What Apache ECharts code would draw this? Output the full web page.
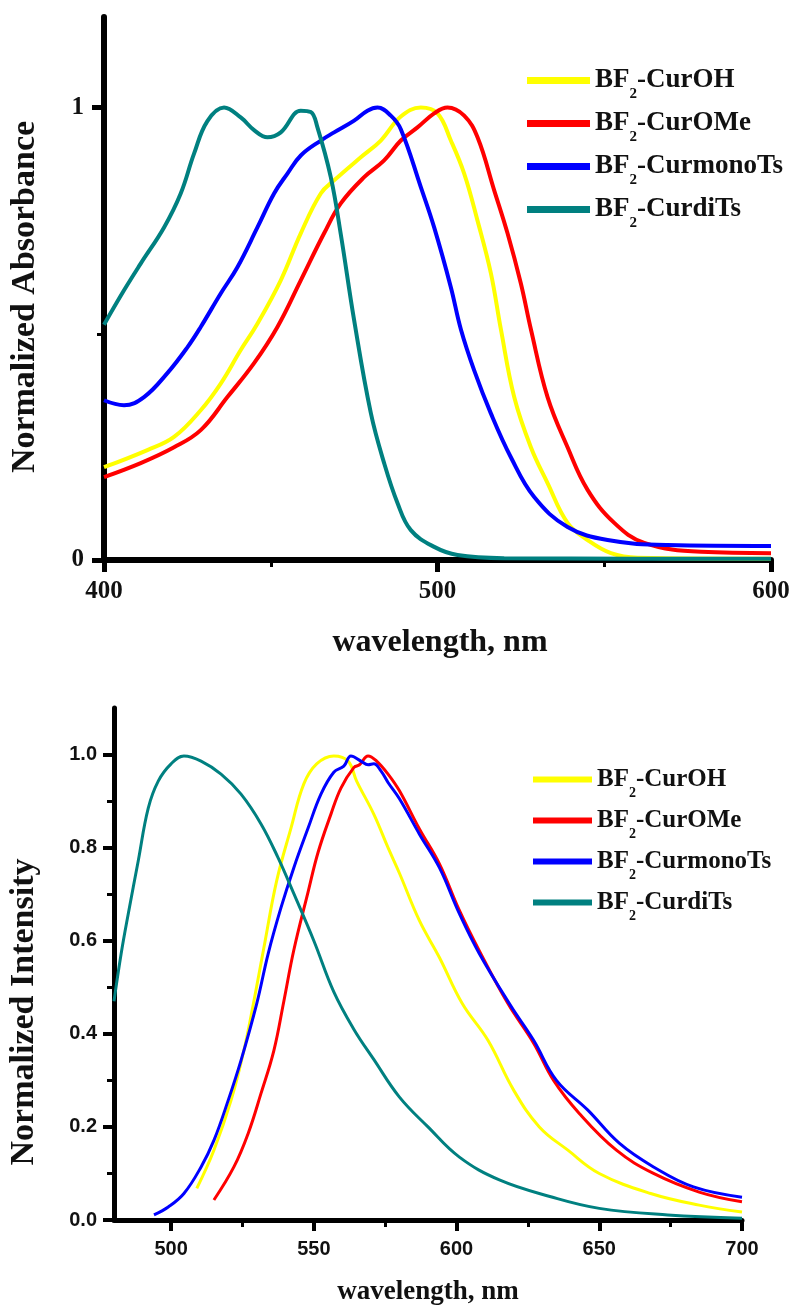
<!DOCTYPE html>
<html>
<head>
<meta charset="utf-8">
<script src="https://cdn.jsdelivr.net/npm/echarts@6/dist/echarts.min.js"></script>
<style>
  html, body { margin: 0; padding: 0; background: #fff; }
  #chart { width: 795px; height: 1307px; }
</style>
</head>
<body>
<div id="chart"></div>
<script>
const seriesNames = ['BF2-CurOH', 'BF2-CurOMe', 'BF2-CurmonoTs', 'BF2-CurdiTs']
const seriesColors = ['#ffff00', '#ff0000', '#0000ff', '#008080']

// absorbance spectra (top panel)
const absOH_wl = [400, 413, 421, 429, 435, 441, 446, 453, 459, 465, 469, 477, 483, 489, 495, 500, 504, 508, 512, 516, 519, 523, 528, 533, 539, 545, 552, 560, 600]
const absOH = [0.205, 0.243, 0.272, 0.331, 0.39, 0.464, 0.522, 0.618, 0.722, 0.81, 0.839, 0.89, 0.927, 0.98, 1.0, 0.987, 0.927, 0.854, 0.75, 0.634, 0.51, 0.36, 0.249, 0.17, 0.082, 0.044, 0.015, 0.005, 0.003]

const absOMe_wl = [400, 411, 421, 429, 437, 445, 452, 459, 466, 471, 478, 484, 489, 494, 499, 503, 508, 512, 517, 521, 525, 528, 533, 539, 545, 553, 562, 579, 600]
const absOMe = [0.183, 0.214, 0.249, 0.287, 0.36, 0.435, 0.515, 0.618, 0.722, 0.788, 0.846, 0.883, 0.927, 0.956, 0.987, 1.0, 0.982, 0.934, 0.817, 0.722, 0.611, 0.51, 0.36, 0.249, 0.155, 0.082, 0.038, 0.018, 0.015]

const absMono_wl = [400, 406, 412, 419, 425, 429, 435, 440, 446, 451, 455, 459, 465, 469, 475, 479, 482, 486, 489, 495, 499, 504, 507, 511, 516, 522, 529, 539, 551, 569, 600]
const absMono = [0.353, 0.342, 0.36, 0.413, 0.47, 0.515, 0.589, 0.647, 0.735, 0.81, 0.854, 0.894, 0.927, 0.945, 0.971, 0.993, 1.0, 0.982, 0.952, 0.824, 0.735, 0.603, 0.51, 0.419, 0.324, 0.227, 0.139, 0.073, 0.044, 0.033, 0.031]

const absDi_wl = [400, 406, 411, 418, 423, 427, 431, 436, 441, 445, 449, 453, 459, 462, 464, 468, 471, 475, 480, 484, 488, 492, 499, 506, 520, 560, 600]
const absDi = [0.52, 0.596, 0.655, 0.735, 0.81, 0.898, 0.97, 1.0, 0.978, 0.95, 0.934, 0.945, 0.993, 0.99, 0.956, 0.846, 0.72, 0.53, 0.325, 0.214, 0.126, 0.066, 0.029, 0.011, 0.004, 0.003, 0.003]

// emission spectra (bottom panel)
const emOH_wl = [509, 515, 521, 525.5, 529, 532.5, 537, 542, 546.5, 551, 557, 562, 565, 571, 576, 580, 587, 594, 602, 611, 620, 629, 639, 650, 668, 685, 700]
const emOH = [0.068, 0.15, 0.257, 0.364, 0.47, 0.585, 0.729, 0.842, 0.937, 0.98, 0.997, 0.986, 0.943, 0.872, 0.8, 0.745, 0.643, 0.564, 0.465, 0.386, 0.279, 0.2, 0.15, 0.1, 0.057, 0.032, 0.017]

const emOMe_wl = [515, 522, 527, 531.5, 536, 539.5, 543, 548, 551.5, 556, 559.5, 564, 566, 569, 572, 576, 580, 587, 594, 601, 608, 618, 627, 634, 643, 656, 669, 685, 700]
const emOMe = [0.043, 0.114, 0.186, 0.272, 0.364, 0.47, 0.58, 0.705, 0.79, 0.872, 0.928, 0.972, 0.978, 0.997, 0.986, 0.958, 0.922, 0.84, 0.765, 0.665, 0.578, 0.465, 0.38, 0.3, 0.229, 0.15, 0.1, 0.06, 0.039]

const emMono_wl = [494, 499, 504.5, 510.5, 515, 520, 524.5, 530, 534, 538.5, 543, 548, 552.5, 557, 560.5, 563, 566.5, 569, 571, 573.5, 576, 580, 587, 594, 601, 608, 619, 627, 635, 646, 657, 669, 683, 700]
const emMono = [0.011, 0.028, 0.057, 0.114, 0.171, 0.257, 0.343, 0.465, 0.572, 0.671, 0.757, 0.842, 0.915, 0.962, 0.975, 0.997, 0.986, 0.978, 0.98, 0.965, 0.94, 0.905, 0.829, 0.757, 0.658, 0.572, 0.46, 0.386, 0.3, 0.236, 0.165, 0.114, 0.071, 0.049]

const emDi_wl = [480, 482.5, 485, 488.5, 492, 495.5, 500, 504.5, 510.5, 517.5, 524.5, 531.5, 537.5, 543, 550, 557, 564, 571, 580, 590, 601, 615, 633, 650, 674, 700]
const emDi = [0.47, 0.572, 0.658, 0.772, 0.885, 0.943, 0.98, 0.997, 0.986, 0.958, 0.915, 0.851, 0.778, 0.701, 0.6, 0.49, 0.41, 0.345, 0.264, 0.2, 0.135, 0.086, 0.05, 0.025, 0.011, 0.004]

const zip = (xs, ys) => xs.map((x, i) => [x, ys[i]])

const serif = 'Liberation Serif'
const sans = 'Liberation Sans'
const ink = '#111'

// "BF" + subscript 2 + rest of the name
const legendRich = (big, small, drop) => ({
  a: { fontFamily: serif, fontWeight: 'bold', fontSize: big, color: ink, verticalAlign: 'middle' },
  s: { fontFamily: serif, fontWeight: 'bold', fontSize: small, color: ink, verticalAlign: 'top', padding: [drop, 0, 0, 0] },
})
const legendFormatter = name => '{a|BF}{s|2}{a|' + name.slice(3) + '}'

const minorAxis = (kind, grid, min, max, ticks, len) => ({
  gridIndex: grid, type: 'value', min, max,
  position: kind === 'x' ? 'bottom' : 'left',
  splitLine: { show: false },
  axisLine: { show: false },
  axisTick: { customValues: ticks, length: len, lineStyle: { color: '#000', width: 3 } },
  axisLabel: { show: false },
})

const chart = echarts.init(document.getElementById('chart'))

const option = {
  animation: false,
  backgroundColor: '#fff',
  grid: [
    { left: 104, top: 17, width: 667, height: 543 },
    { left: 114, top: 708, width: 628, height: 512 },
  ],
  legend: [
    {
      data: seriesNames,
      orient: 'vertical',
      left: 522,
      top: 62,
      itemWidth: 63,
      itemHeight: 7,
      itemGap: 8,
      icon: 'rect',
      selectedMode: false,
      formatter: legendFormatter,
      textStyle: { fontFamily: serif, fontWeight: 'bold', fontSize: 27, color: ink, rich: legendRich(27, 15, 28) },
    },
    {
      data: seriesNames,
      orient: 'vertical',
      left: 528,
      top: 762,
      itemWidth: 59,
      itemHeight: 6,
      itemGap: 8,
      icon: 'rect',
      selectedMode: false,
      formatter: legendFormatter,
      textStyle: { fontFamily: serif, fontWeight: 'bold', fontSize: 25, color: ink, rich: legendRich(25, 14, 27) },
    },
  ],
  xAxis: [
    {
      gridIndex: 0, type: 'value', min: 400, max: 600, position: 'bottom',
      splitLine: { show: false },
      axisLine: { lineStyle: { color: '#000', width: 6 } },
      axisTick: { customValues: [400, 500, 600], length: 12, lineStyle: { color: '#000', width: 5 } },
      axisLabel: { customValues: [400, 500, 600], margin: 19, fontFamily: serif, fontWeight: 'bold', fontSize: 25, color: ink },
    },
    {
      gridIndex: 1, type: 'value', min: 480, max: 700, position: 'bottom',
      splitLine: { show: false },
      axisLine: { lineStyle: { color: '#000', width: 5 } },
      axisTick: { customValues: [500, 550, 600, 650, 700], length: 11, lineStyle: { color: '#000', width: 4 } },
      axisLabel: { customValues: [500, 550, 600, 650, 700], margin: 19, fontFamily: sans, fontWeight: 'bold', fontSize: 20, color: ink },
    },
    minorAxis('x', 1, 480, 700, [525, 575, 625, 675], 7),
    minorAxis('x', 0, 400, 600, [450, 550], 7),
  ],
  yAxis: [
    {
      gridIndex: 0, type: 'value', min: 0, max: 1.2, position: 'left',
      splitLine: { show: false },
      axisLine: { lineStyle: { color: '#000', width: 6 } },
      axisTick: { customValues: [0, 1], length: 12, lineStyle: { color: '#000', width: 5 } },
      axisLabel: { customValues: [0, 1], margin: 20, fontFamily: serif, fontWeight: 'bold', fontSize: 25, color: ink },
    },
    {
      gridIndex: 1, type: 'value', min: 0, max: 1.1, position: 'left',
      splitLine: { show: false },
      axisLine: { lineStyle: { color: '#000', width: 5 } },
      axisTick: { customValues: [0, 0.2, 0.4, 0.6, 0.8, 1.0], length: 11, lineStyle: { color: '#000', width: 4 } },
      axisLabel: {
        customValues: [0, 0.2, 0.4, 0.6, 0.8, 1.0], margin: 17,
        formatter: v => v.toFixed(1),
        fontFamily: sans, fontWeight: 'bold', fontSize: 20, color: ink,
      },
    },
    minorAxis('y', 1, 0, 1.1, [0.1, 0.3, 0.5, 0.7, 0.9], 7),
    minorAxis('y', 0, 0, 1.2, [0.5], 7),
  ],
  graphic: [
    {
      type: 'text', x: 25, y: 297, rotation: Math.PI / 2,
      style: { text: 'Normalized Absorbance', fontFamily: serif, fontWeight: 'bold', fontSize: 34, fill: ink, align: 'center', verticalAlign: 'middle' },
    },
    {
      type: 'text', x: 440, y: 643,
      style: { text: 'wavelength, nm', fontFamily: serif, fontWeight: 'bold', fontSize: 32, fill: ink, align: 'center', verticalAlign: 'middle' },
    },
    {
      type: 'text', x: 24, y: 1012, rotation: Math.PI / 2,
      style: { text: 'Normalized Intensity', fontFamily: serif, fontWeight: 'bold', fontSize: 34, fill: ink, align: 'center', verticalAlign: 'middle' },
    },
    {
      type: 'text', x: 428, y: 1292,
      style: { text: 'wavelength, nm', fontFamily: serif, fontWeight: 'bold', fontSize: 27, fill: ink, align: 'center', verticalAlign: 'middle' },
    },
  ],
  series: [
    // top panel
    { name: seriesNames[0], data: zip(absOH_wl, absOH), xAxisIndex: 0, yAxisIndex: 0, lw: 4 },
    { name: seriesNames[1], data: zip(absOMe_wl, absOMe), xAxisIndex: 0, yAxisIndex: 0, lw: 4 },
    { name: seriesNames[2], data: zip(absMono_wl, absMono), xAxisIndex: 0, yAxisIndex: 0, lw: 4 },
    { name: seriesNames[3], data: zip(absDi_wl, absDi), xAxisIndex: 0, yAxisIndex: 0, lw: 4 },
    // bottom panel
    { name: seriesNames[0], data: zip(emOH_wl, emOH), xAxisIndex: 1, yAxisIndex: 1, lw: 3 },
    { name: seriesNames[1], data: zip(emOMe_wl, emOMe), xAxisIndex: 1, yAxisIndex: 1, lw: 3 },
    { name: seriesNames[2], data: zip(emMono_wl, emMono), xAxisIndex: 1, yAxisIndex: 1, lw: 3 },
    { name: seriesNames[3], data: zip(emDi_wl, emDi), xAxisIndex: 1, yAxisIndex: 1, lw: 3 },
  ].map(s => {
    const c = seriesColors[seriesNames.indexOf(s.name)]
    return {
      name: s.name,
      type: 'line',
      data: s.data,
      xAxisIndex: s.xAxisIndex,
      yAxisIndex: s.yAxisIndex,
      showSymbol: false,
      smooth: 0.4,
      color: c,
      lineStyle: { color: c, width: s.lw },
    }
  }),
}

chart.setOption(option)
</script>
</body>
</html>
